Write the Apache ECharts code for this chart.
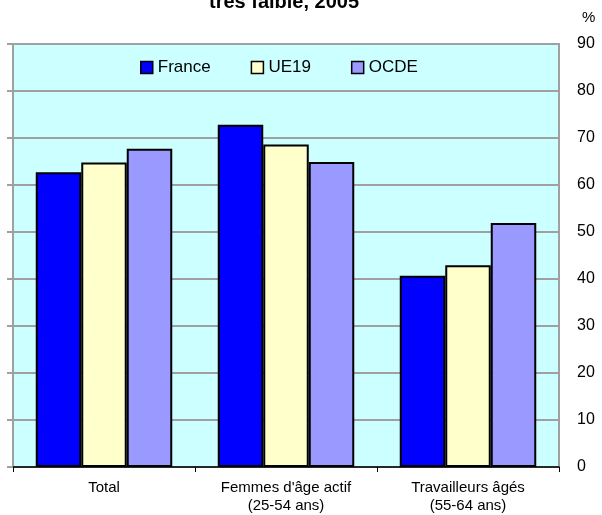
<!DOCTYPE html>
<html><head><meta charset="utf-8">
<script src="https://cdn.jsdelivr.net/npm/echarts@6/dist/echarts.min.js"></script>
<style>html,body{margin:0;padding:0;background:#fff}#c{width:602px;height:515px}</style>
</head><body><div id="c"></div>
<script>
const titleText = "très faible, 2005";
const categories = ["Total", "Femmes d'âge actif\n(25-54 ans)", "Travailleurs âgés\n(55-64 ans)"];
const seriesNames = ["France", "UE19", "OCDE"];
const france = [62.7, 72.8, 40.7];
const ue19 = [64.8, 68.6, 42.9];
const ocde = [67.7, 64.9, 51.9];
const yTicks = {min: 0, max: 90, interval: 10};
const colors = ["#0000FF", "#FFFFCC", "#9999FF"];

const chart = echarts.init(document.getElementById('c'), null, {renderer: 'canvas'});
const font = 'Arial, "Liberation Sans", sans-serif';
const mk = (name, data, color) => ({
  name, type: 'bar', data, barGap: '0%', barCategoryGap: '25%', yAxisIndex: 0,
  itemStyle: {color, borderColor: '#000', borderWidth: 2},
  emphasis: {disabled: true}, animation: false
});
chart.setOption({
  animation: false,
  textStyle: {fontFamily: font},
  title: {text: titleText, left: 209, top: -8, padding: 0, textStyle: {fontSize: 20, fontWeight: 'bold', color: '#000', fontFamily: font, lineHeight: 20}},
  graphic: [{type: 'text', left: 582, top: 10, style: {text: '%', fontSize: 15, fill: '#000', fontFamily: font}}],
  legend: {
    left: 140, top: 59, padding: 0, itemWidth: 12, itemHeight: 12, itemGap: 40,
    icon: 'rect',
    data: seriesNames,
    textStyle: {fontSize: 17, color: '#000', fontFamily: font},
    itemStyle: {borderColor: '#000', borderWidth: 1.5}
  },
  grid: {left: 13, right: 43, top: 44, bottom: 46, show: true, backgroundColor: '#CCFFFF', borderColor: '#A0A0A0', borderWidth: 2},
  xAxis: {
    type: 'category', data: categories,
    axisLine: {lineStyle: {color: '#000', width: 1.5}},
    axisTick: {show: true, length: 5, lineStyle: {color: '#000', width: 1}},
    axisLabel: {color: '#000', fontSize: 15, margin: 12, lineHeight: 18, fontFamily: font}
  },
  yAxis: [
    {type: 'value', position: 'right', min: yTicks.min, max: yTicks.max, interval: yTicks.interval,
     axisLine: {show: false}, axisTick: {show: false},
     axisLabel: {color: '#000', fontSize: 16, margin: 18, fontFamily: font},
     splitLine: {lineStyle: {color: '#A0A0A0', width: 2}}},
    {type: 'value', position: 'left', min: yTicks.min, max: yTicks.max, interval: yTicks.interval,
     axisLine: {show: true, lineStyle: {color: '#A0A0A0', width: 2}},
     axisTick: {show: true, length: 6, lineStyle: {color: '#A0A0A0', width: 2}},
     axisLabel: {show: false}, splitLine: {show: false}}
  ],
  series: [mk(seriesNames[0], france, colors[0]), mk(seriesNames[1], ue19, colors[1]), mk(seriesNames[2], ocde, colors[2])]
});
</script></body></html>
